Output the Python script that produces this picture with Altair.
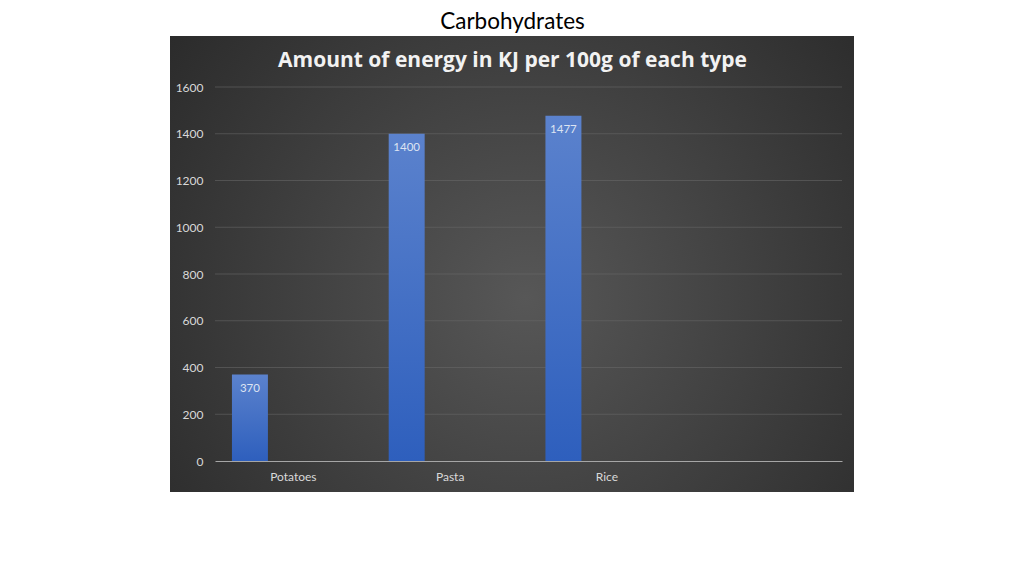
import altair as alt
import pandas as pd

# ---- data ----
categories = ["Potatoes", "Pasta", "Rice"]
energy_kj = [370, 1400, 1477]
axis_slots = ["Potatoes", "Pasta", "Rice", " "]
series_slots = ["Energy", "Empty"]
y_ticks = [0, 200, 400, 600, 800, 1000, 1200, 1400, 1600]

df = pd.DataFrame({"food": categories, "energy": energy_kj, "series": ["Energy"] * 3})
grid_df = pd.DataFrame({"energy": y_ticks[1:]})

W, H = 627, 374
FONT = "Lato"

x_enc = alt.X("food:N", scale=alt.Scale(domain=axis_slots, paddingInner=0, paddingOuter=0),
              sort=axis_slots,
              axis=alt.Axis(title=None, labelAngle=0, ticks=False, domain=True,
                            domainColor="#a6a6a6", domainWidth=1.2, labelColor="#d9d9d9",
                            labelFontSize=12, labelFont=FONT, labelPadding=10, grid=False,
                            zindex=2))
xoff = alt.XOffset("series:N", scale=alt.Scale(domain=series_slots, paddingInner=0.586,
                                                paddingOuter=0.195))
y_scale = alt.Scale(domain=[0, 1600], nice=False)
y_axis = alt.Axis(title=None, values=y_ticks, format="d", grid=False, domain=False, ticks=False,
                  labelColor="#d9d9d9", labelFontSize=12, labelFont=FONT,
                  labelPadding=12, zindex=2)

panel = alt.Chart(alt.Data(values=[{}])).mark_rect(
    fill=alt.RadialGradient(gradient="radial", x1=0.52, y1=0.55, r1=0, x2=0.52, y2=0.55, r2=0.75,
                            stops=[alt.GradientStop(offset=0, color="#575757"),
                                   alt.GradientStop(offset=1, color="#242424")]),
).encode(x=alt.value(-45), x2=alt.value(639), y=alt.value(-51), y2=alt.value(405))

grid = alt.Chart(grid_df).mark_rule(color="#6a6a6a", strokeWidth=1, opacity=0.55).encode(
    y=alt.Y("energy:Q", scale=y_scale, axis=y_axis),
    x=alt.value(0), x2=alt.value(W),
)

bars = alt.Chart(df).mark_bar(
    color=alt.LinearGradient(gradient="linear", x1=0, y1=0, x2=0, y2=1,
                             stops=[alt.GradientStop(offset=0, color="#5b82cd"),
                                    alt.GradientStop(offset=1, color="#2e5fbd")]),
).encode(
    x=x_enc,
    xOffset=xoff,
    y=alt.Y("energy:Q", scale=y_scale, axis=y_axis),
)

labels = alt.Chart(df).mark_text(baseline="top", dy=8, color="#dde4f2", fontSize=11.5,
                                 font=FONT).encode(
    x=alt.X("food:N", sort=axis_slots),
    xOffset=alt.XOffset("series:N"),
    y=alt.Y("energy:Q"),
    text=alt.Text("energy:Q"),
)

chart = alt.layer(panel, grid, bars, labels).properties(
    width=W, height=H,
    title=alt.TitleParams(
        text="Carbohydrates",
        subtitle="Amount of energy in KJ per 100g of each type",
        anchor="middle", dx=-16, offset=-35,
        font=FONT, fontSize=22.5, fontWeight="normal", color="#000000",
        subtitleFont="Open Sans", subtitleFontSize=21, subtitleFontWeight="bold",
        subtitleColor="#f2f2f2", subtitlePadding=16.5, zindex=2,
    ),
    autosize=alt.AutoSizeParams(type="none"),
    padding={"left": 207, "top": 79, "right": 174, "bottom": 107},
).configure_view(stroke=None).configure(background="#ffffff")

chart.save("out.html", embed_options={"renderer": "svg", "actions": False})
